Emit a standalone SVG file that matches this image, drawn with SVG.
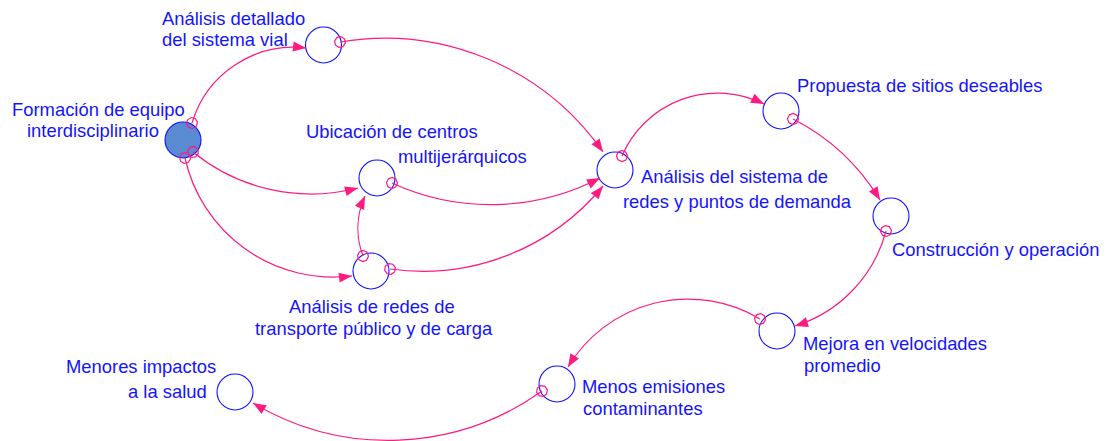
<svg xmlns="http://www.w3.org/2000/svg" width="1107" height="441" viewBox="0 0 1107 441">
<style>
.n{fill:none;stroke:#1010ff;stroke-width:1.1}
.t{font-family:"Liberation Sans",Arial,sans-serif;font-size:18.4px;fill:#1414ff}
.c{fill:none;stroke:#ff1a80;stroke-width:1.2;marker-start:url(#tail);marker-end:url(#arr)}
</style>
<defs>
<marker id="arr" markerUnits="userSpaceOnUse" markerWidth="14" markerHeight="12" refX="13" refY="5" orient="auto" overflow="visible">
<path d="M0,0 L13,5 L0,10 z" fill="#ff1a80"/>
</marker>
<marker id="tail" markerUnits="userSpaceOnUse" markerWidth="14" markerHeight="14" refX="7" refY="7" orient="auto" overflow="visible">
<polygon points="12.08,9.1 9.1,12.08 4.9,12.08 1.92,9.1 1.92,4.9 4.9,1.92 9.1,1.92 12.08,4.9" fill="none" stroke="#ff1a80" stroke-width="1.2"/>
</marker>
</defs>
<rect width="1107" height="441" fill="#ffffff"/>
<g id="formacion">
<circle cx="183" cy="140" r="18" fill="#5a8bd2" stroke="#1010ff" stroke-width="1.1"/>
<text class="t" x="12" y="116">Formación de equipo</text>
<text class="t" x="27" y="137">interdisciplinario</text>
</g>
<g id="analisis-vial">
<circle class="n" cx="323.5" cy="45" r="18"/>
<text class="t" x="162" y="25">Análisis detallado</text>
<text class="t" x="162" y="46">del sistema vial</text>
</g>
<g id="ubicacion">
<circle class="n" cx="377" cy="178" r="18"/>
<text class="t" x="306" y="138">Ubicación de centros</text>
<text class="t" x="398" y="163">multijerárquicos</text>
</g>
<g id="analisis-redes-transporte">
<circle class="n" cx="371" cy="271" r="18"/>
<text class="t" x="289" y="313">Análisis de redes de</text>
<text class="t" x="255" y="335">transporte público y de carga</text>
</g>
<g id="analisis-sistema">
<circle class="n" cx="615" cy="170" r="18"/>
<text class="t" x="641" y="183">Análisis del sistema de</text>
<text class="t" x="623" y="208">redes y puntos de demanda</text>
</g>
<g id="propuesta">
<circle class="n" cx="781" cy="111" r="18"/>
<text class="t" x="797" y="92">Propuesta de sitios deseables</text>
</g>
<g id="construccion">
<circle class="n" cx="891" cy="216" r="18"/>
<text class="t" x="892" y="256">Construcción y operación</text>
</g>
<g id="mejora">
<circle class="n" cx="777" cy="331" r="18"/>
<text class="t" x="803" y="350">Mejora en velocidades</text>
<text class="t" x="804" y="372">promedio</text>
</g>
<g id="menos-emisiones">
<circle class="n" cx="557" cy="384" r="18"/>
<text class="t" x="582" y="393">Menos emisiones</text>
<text class="t" x="583" y="415">contaminantes</text>
</g>
<g id="menores-impactos">
<circle class="n" cx="235" cy="392" r="18"/>
<text class="t" x="66" y="373">Menores impactos</text>
<text class="t" x="128" y="398">a la salud</text>
</g>
<g id="connectors">
<path class="c" d="M192,123 A106,106 0 0 1 306,48"/>
<path class="c" d="M340,42 A266,266 0 0 1 603,152"/>
<path class="c" d="M193,152 A187,187 0 0 0 358,188"/>
<path class="c" d="M185,158 A152,152 0 0 0 352,276"/>
<path class="c" d="M363,256 A78,78 0 0 1 365,196"/>
<path class="c" d="M392,183 A237,237 0 0 0 600,178"/>
<path class="c" d="M390,269 A233,233 0 0 0 603,186"/>
<path class="c" d="M622,156 A104,104 0 0 1 764,104"/>
<path class="c" d="M793,119 A216,216 0 0 1 880,200"/>
<path class="c" d="M886,231 A136,136 0 0 1 795,326"/>
<path class="c" d="M760,319 A140,140 0 0 0 568,367"/>
<path class="c" d="M542,391 A264,264 0 0 1 253,403"/>
</g>
</svg>
